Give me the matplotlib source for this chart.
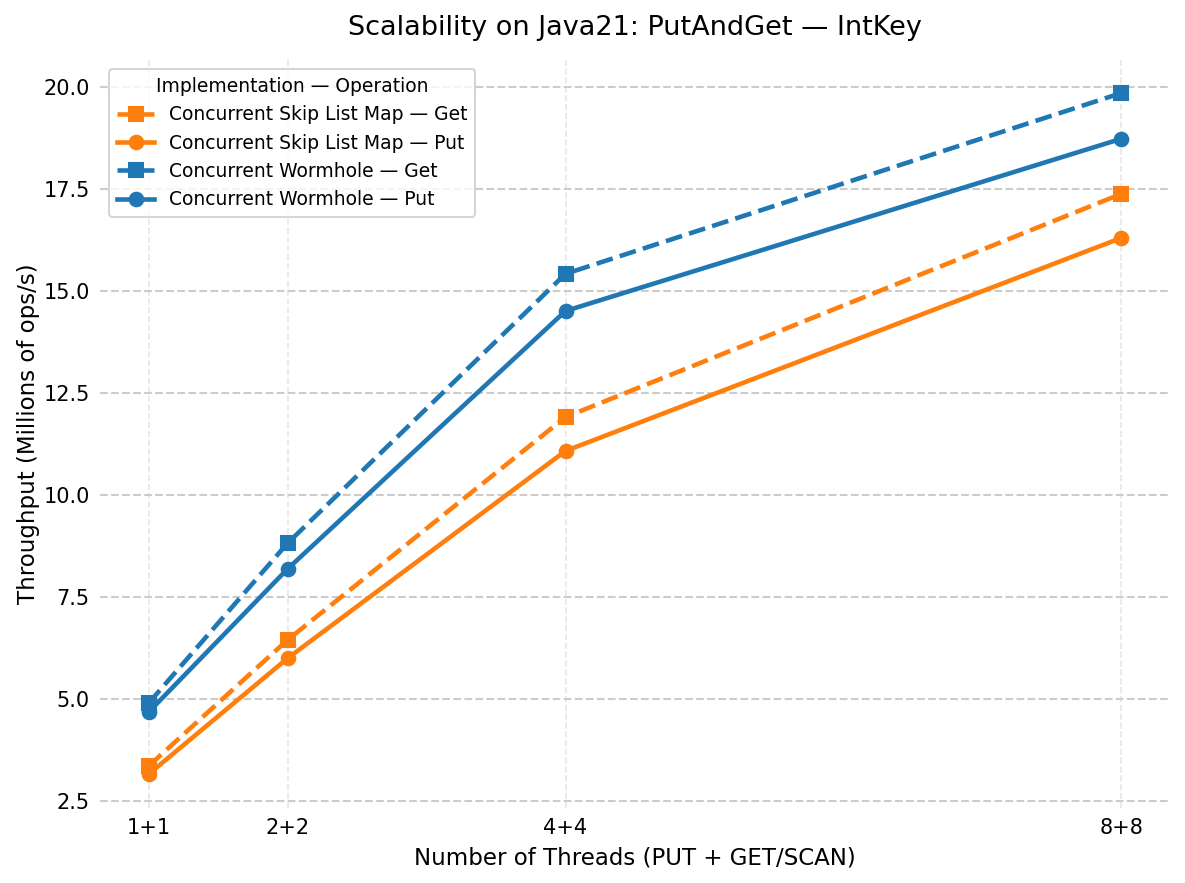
import matplotlib
matplotlib.use("Agg")
import matplotlib.pyplot as plt

threads = [1, 2, 4, 8]
tick_labels = ["1+1", "2+2", "4+4", "8+8"]

skip_get = [3.36, 6.45, 11.91, 17.38]
skip_put = [3.16, 6.00, 11.08, 16.30]
worm_get = [4.90, 8.82, 15.42, 19.85]
worm_put = [4.68, 8.19, 14.51, 18.73]

SERIES = [
    ("Concurrent Skip List Map — Get", skip_get, "#ff7f0e", "--", "s"),
    ("Concurrent Skip List Map — Put", skip_put, "#ff7f0e", "-", "o"),
    ("Concurrent Wormhole — Get", worm_get, "#1f77b4", "--", "s"),
    ("Concurrent Wormhole — Put", worm_put, "#1f77b4", "-", "o"),
]


def main():
    fig, ax = plt.subplots(figsize=(7.9, 5.887), dpi=150)
    fig.subplots_adjust(left=0.0844, right=0.9873, top=0.932, bottom=0.0849)

    for label, values, color, ls, marker in SERIES:
        ax.plot(threads, values, linestyle=ls, marker=marker, color=color,
                linewidth=2.2, markersize=6.5, label=label)

    ax.set_xticks(threads)
    ax.set_xticklabels(tick_labels)
    ax.set_yticks([2.5, 5.0, 7.5, 10.0, 12.5, 15.0, 17.5, 20.0])
    ax.set_ylim(2.33, 20.66)
    ax.set_xlim(0.65, 8.35)

    ax.grid(True, axis="y", linestyle="--", color="#cccccc", linewidth=1)
    ax.grid(True, axis="x", linestyle="--", color="#e6e6e6", linewidth=0.8)
    ax.set_axisbelow(True)
    for spine in ax.spines.values():
        spine.set_visible(False)
    ax.tick_params(length=0, labelsize=10, pad=5)

    ax.set_xlabel("Number of Threads (PUT + GET/SCAN)", fontsize=11)
    ax.set_ylabel("Throughput (Millions of ops/s)", fontsize=11, labelpad=1.5)
    ax.set_title("Scalability on Java21: PutAndGet — IntKey", fontsize=13, pad=12)

    ax.legend(title="Implementation — Operation", loc="upper left", fontsize=9,
              title_fontsize=9)

    fig.savefig("out.png", dpi=150)


if __name__ == "__main__":
    main()
